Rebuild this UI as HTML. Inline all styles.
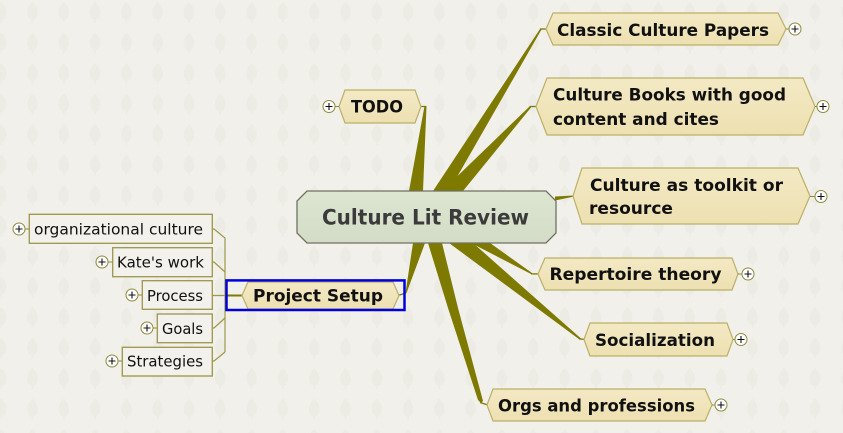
<!DOCTYPE html>
<html><head><meta charset="utf-8"><style>
html,body{margin:0;padding:0;background:#f1f0eb;}
svg{display:block;}
text{font-family:"DejaVu Sans","Liberation Sans",sans-serif;}
</style></head><body>
<svg width="843" height="433" viewBox="0 0 843 433" xmlns="http://www.w3.org/2000/svg">
<defs>
<pattern id="lv" x="-14.45" y="-3" width="31.3" height="30.5" patternUnits="userSpaceOnUse">
<path transform="translate(15.65,15)" d="M0,-10 C4,-6 6,-2 5,3 C4,7 1,8 0.7,8 L0.7,11 L-0.7,11 L-0.7,8 C-1,8 -4,7 -5,3 C-6,-2 -4,-6 0,-10Z" fill="#ecebe4"/>
</pattern>
<linearGradient id="tg" x1="0" y1="0" x2="0" y2="1">
<stop offset="0" stop-color="#f3e9c4"/><stop offset="1" stop-color="#ede0b1"/>
</linearGradient>
<linearGradient id="cg" x1="0" y1="0" x2="0" y2="1">
<stop offset="0" stop-color="#dde6d2"/><stop offset="1" stop-color="#d3dcc6"/>
</linearGradient>
</defs>
<rect width="843" height="433" fill="#f1f0eb"/>
<rect width="843" height="433" fill="url(#lv)"/>

<!-- main tapered branches -->
<g fill="#7e7a00" stroke="none">
<polygon points="409,191 423,191 426.5,106 424.5,106"/>
<polygon points="433,191 449,191 541.5,29.5 540,29"/>
<polygon points="442,191 463,191 531,107.5 530,106"/>
<polygon points="555,196.5 573,195.5 573,196.7 555,200.5"/>
<polygon points="413,243 425,243 406.5,293 405.5,293"/>
<polygon points="428,243 442,243 458,308 483,401 481,403 478,400 448,308"/>
<polygon points="449,243 473,243 581,338.5 579.5,339.5"/>
<polygon points="471,243 490,243 532,273 532,274.5"/>
</g>
<g stroke="#7e7a00" stroke-width="1.3" fill="none">
<line x1="421" y1="106.5" x2="426" y2="106.5"/>
<line x1="540" y1="29" x2="547" y2="29"/>
<line x1="530" y1="106.5" x2="537" y2="106.5"/>
<line x1="531" y1="273.8" x2="539" y2="274"/>
<line x1="579" y1="338.8" x2="585" y2="339.5"/>
<line x1="480" y1="402.5" x2="488" y2="405"/>
<line x1="398" y1="295.5" x2="406" y2="293"/>
</g>

<!-- subtopic connectors -->
<g stroke="#9f9848" stroke-width="1.2" fill="none">
<polyline points="212,229 214,229 225,238 225,352"/>
<polyline points="212,262 214,262 225,272"/>
<polyline points="212,328 214,328 225,318"/>
<polyline points="212,361 214,361 225,352"/>
</g>
<line x1="212" y1="295.5" x2="226" y2="295.5" stroke="#9f9848" stroke-width="1.3"/>
<line x1="226" y1="295.5" x2="243" y2="295.5" stroke="#7e7a00" stroke-width="2"/>

<!-- central node -->
<polygon points="307,191 546,191 556,201 556,233 546,243 307,243 297,233 297,201" fill="url(#cg)" stroke="#6f7260" stroke-width="1.3"/>
<text x="322" y="224.3" font-size="21.5" font-weight="bold" fill="#3b3b3b" textLength="207" lengthAdjust="spacingAndGlyphs">Culture Lit Review</text>

<!-- topic nodes -->
<g fill="url(#tg)" stroke="#bcb066" stroke-width="1.2">
<polygon points="339,106.5 345,90 415,90 421,106.5 415,123 345,123"/>
<polygon points="546,29 553,13 778,13 786,29 778,45 553,45"/>
<polygon points="536,106.5 547,78 803,78 815,106.5 803,135 547,135"/>
<polygon points="573,196 582,168 798,168 810,196 798,224 582,224"/>
<polygon points="538,274 545,258 732,258 738,274 732,290 545,290"/>
<polygon points="584,339.5 590,323 727,323 733,339.5 727,356 590,356"/>
<polygon points="487,405 493,389 705,389 712,405 705,421 493,421"/>
<polygon points="242,295.5 248,282 393,282 399,295.5 393,309 248,309"/>
</g>
<rect x="226.5" y="280.4" width="178" height="29.6" fill="none" stroke="#0000dd" stroke-width="2.5"/>

<g font-size="17" font-weight="bold" fill="#111">
<text x="351" y="112.5" textLength="52" lengthAdjust="spacingAndGlyphs">TODO</text>
<text x="557" y="36" textLength="212" lengthAdjust="spacingAndGlyphs">Classic Culture Papers</text>
<text x="553" y="100.7" textLength="233" lengthAdjust="spacingAndGlyphs">Culture Books with good</text>
<text x="553" y="125" textLength="166" lengthAdjust="spacingAndGlyphs">content and cites</text>
<text x="590" y="191" textLength="193" lengthAdjust="spacingAndGlyphs">Culture as toolkit or</text>
<text x="589" y="214" textLength="84" lengthAdjust="spacingAndGlyphs">resource</text>
<text x="549.5" y="280" textLength="172" lengthAdjust="spacingAndGlyphs">Repertoire theory</text>
<text x="595" y="346" textLength="120" lengthAdjust="spacingAndGlyphs">Socialization</text>
<text x="498" y="411.7" textLength="197" lengthAdjust="spacingAndGlyphs">Orgs and professions</text>
<text x="253" y="301.7" textLength="130" lengthAdjust="spacingAndGlyphs">Project Setup</text>
</g>

<!-- subtopic boxes -->
<g fill="#f2f1ec" stroke="#9c954a" stroke-width="1.3">
<rect x="29.3" y="214.3" width="183" height="29"/>
<rect x="112.7" y="247.7" width="99.6" height="29"/>
<rect x="142.3" y="280.7" width="70" height="28.6"/>
<rect x="157.3" y="314" width="55" height="28.7"/>
<rect x="122.3" y="347.3" width="90" height="28.7"/>
</g>
<g font-size="15" fill="#111">
<text x="34" y="234.3" textLength="169" lengthAdjust="spacingAndGlyphs">organizational culture</text>
<text x="117" y="267.7" textLength="87" lengthAdjust="spacingAndGlyphs">Kate's work</text>
<text x="147" y="301" textLength="56" lengthAdjust="spacingAndGlyphs">Process</text>
<text x="162" y="334" textLength="41" lengthAdjust="spacingAndGlyphs">Goals</text>
<text x="127" y="366.7" textLength="76" lengthAdjust="spacingAndGlyphs">Strategies</text>
</g>

<!-- plus icons -->
<g stroke="#8f8a3c" stroke-width="1">
<line x1="335" y1="106.5" x2="339" y2="106.5"/>
<line x1="786" y1="29" x2="789" y2="29"/>
<line x1="815" y1="106.5" x2="817" y2="106.5"/>
<line x1="810" y1="196.5" x2="815" y2="196.5"/>
<line x1="738" y1="274" x2="742" y2="274"/>
<line x1="733" y1="339.5" x2="735" y2="339.5"/>
<line x1="712" y1="405" x2="715" y2="405"/>
<line x1="25" y1="229" x2="29" y2="229"/>
<line x1="108" y1="262" x2="112" y2="262"/>
<line x1="138" y1="295" x2="142" y2="295"/>
<line x1="153" y1="328" x2="157" y2="328"/>
<line x1="118" y1="361" x2="122" y2="361"/>
</g>
<g fill="#ffffff" stroke="#8f8a3c" stroke-width="1">
<circle cx="329" cy="106.5" r="6"/>
<circle cx="795" cy="29" r="6"/>
<circle cx="823" cy="106.5" r="6"/>
<circle cx="821" cy="196.5" r="6"/>
<circle cx="748" cy="274" r="6"/>
<circle cx="741" cy="339.5" r="6"/>
<circle cx="721" cy="405" r="6"/>
<circle cx="19" cy="229" r="6"/>
<circle cx="102" cy="262" r="6"/>
<circle cx="132" cy="295" r="6"/>
<circle cx="147" cy="328" r="6"/>
<circle cx="112" cy="361" r="6"/>
</g>
<g stroke="#111" stroke-width="1.1">
<path d="M325.5,106.5h7M329,103v7"/>
<path d="M791.5,29h7M795,25.5v7"/>
<path d="M819.5,106.5h7M823,103v7"/>
<path d="M817.5,196.5h7M821,193v7"/>
<path d="M744.5,274h7M748,270.5v7"/>
<path d="M737.5,339.5h7M741,336v7"/>
<path d="M717.5,405h7M721,401.5v7"/>
<path d="M15.5,229h7M19,225.5v7"/>
<path d="M98.5,262h7M102,258.5v7"/>
<path d="M128.5,295h7M132,291.5v7"/>
<path d="M143.5,328h7M147,324.5v7"/>
<path d="M108.5,361h7M112,357.5v7"/>
</g>
</svg>
</body></html>
